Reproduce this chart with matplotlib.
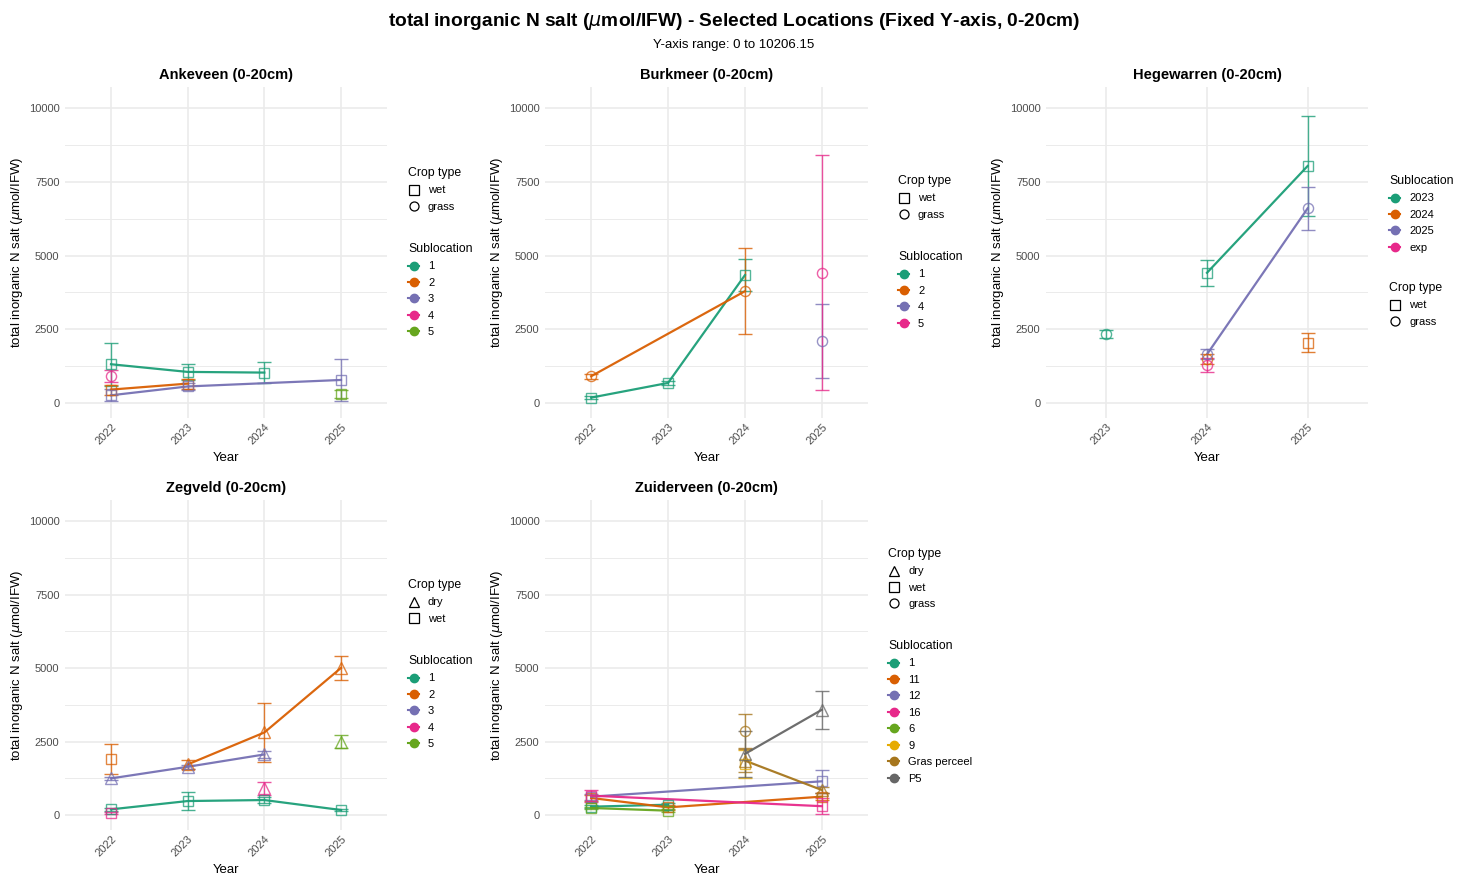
import matplotlib.pyplot as plt
from matplotlib.lines import Line2D

plt.rcParams['font.family'] = ['Liberation Sans', 'DejaVu Sans']

W, H = 1468, 874
YMAX = 10206.15
PALETTE = plt.get_cmap('Dark2').colors
SHAPES = {'dry': '^', 'wet': 's', 'grass': 'o'}

# (sublocation, crop type, years, mean, half error bar)
ankeveen = [
    ("1", "wet", [2022, 2023, 2024], [1313, 1053, 1030], [725, 283, 362]),
    ("2", "wet", [2022, 2023], [453, 656], [170, 170]),
    ("3", "wet", [2022, 2023, 2025], [260, 560, 780], [200, 110, 710]),
    ("4", "grass", [2022], [917], [200]),
    ("5", "wet", [2025], [317], [136]),
]
burkmeer = [
    ("1", "wet", [2022, 2023, 2024], [181, 679, 4336], [60, 60, 540]),
    ("2", "grass", [2022, 2024], [906, 3790], [80, 1450]),
    ("4", "grass", [2025], [2100], [1270]),
    ("5", "grass", [2025], [4420], [3990]),
]
hegewarren = [
    ("2023", "grass", [2023], [2355], [136]),
    ("2023", "wet", [2024, 2025], [4415, 8037], [450, 1690]),
    ("2024", "grass", [2024], [1506], [170]),
    ("2024", "wet", [2025], [2038], [320]),
    ("2025", "grass", [2024, 2025], [1650, 6600], [170, 735]),
    ("exp", "grass", [2024], [1279], [230]),
]
zegveld = [
    ("1", "wet", [2022, 2023, 2024, 2025], [192, 475, 509, 170], [50, 300, 90, 40]),
    ("2", "wet", [2022], [1890], [510]),
    ("2", "dry", [2023, 2024, 2025], [1721, 2807, 5003], [140, 990, 400]),
    ("3", "dry", [2022, 2023, 2024], [1245, 1640, 2060], [60, 60, 110]),
    ("4", "wet", [2022], [57], [30]),
    ("4", "dry", [2024], [906], [215]),
    ("5", "dry", [2025], [2490], [215]),
]
zuiderveen = [
    ("1", "wet", [2022, 2023], [283, 351], [60, 60]),
    ("11", "wet", [2022, 2023, 2025], [580, 260, 624], [100, 80, 120]),
    ("12", "wet", [2022, 2025], [624, 1146], [100, 390]),
    ("16", "wet", [2022, 2025], [658, 300], [200, 280]),
    ("6", "wet", [2022, 2023], [239, 147], [50, 50]),
    ("9", "wet", [2024], [1740], [480]),
    ("Gras perceel", "grass", [2024], [2852], [570]),
    ("Gras perceel", "dry", [2024, 2025], [1850, 850], [400, 100]),
    ("P5", "dry", [2024, 2025], [2080, 3580], [775, 640]),
]

panels = [
    ("Ankeveen (0-20cm)", ankeveen, ["1", "2", "3", "4", "5"], ["wet", "grass"],
     (65, 87, 387, 418), (408, 167, 243)),
    ("Burkmeer (0-20cm)", burkmeer, ["1", "2", "4", "5"], ["wet", "grass"],
     (545, 87, 868, 418), (898, 175, 251)),
    ("Hegewarren (0-20cm)", hegewarren, ["2023", "2024", "2025", "exp"], ["wet", "grass"],
     (1046, 87, 1368, 418), (1389, 282, 175)),
    ("Zegveld (0-20cm)", zegveld, ["1", "2", "3", "4", "5"], ["dry", "wet"],
     (65, 500, 387, 830), (408, 579, 655)),
    ("Zuiderveen (0-20cm)", zuiderveen, ["1", "11", "12", "16", "6", "9", "Gras perceel", "P5"],
     ["dry", "wet", "grass"],
     (545, 500, 868, 830), (888, 548, 640)),
]

fig = plt.figure(figsize=(W / 100, H / 100), dpi=100)
fig.patch.set_facecolor('white')

for title, series, subs, crops, box, leg in panels:
    l, t, r, b = box
    ax = fig.add_axes([l / W, 1 - b / H, (r - l) / W, (b - t) / H])
    years = sorted({y for s in series for y in s[2]})
    for sub, crop, yrs, vals, errs in series:
        c = PALETTE[subs.index(sub)]
        x = [years.index(y) for y in yrs]
        ax.errorbar(x, vals, yerr=errs, fmt='none', ecolor=c, elinewidth=1.0,
                    capsize=4.7, capthick=1.0, alpha=0.8, zorder=3)
        if len(x) > 1:
            ax.plot(x, vals, color=c, lw=1.6, alpha=0.95, zorder=4)
        ms = 8.5 if crop == 'dry' else 7.3
        ax.plot(x, vals, linestyle='none', marker=SHAPES[crop], mfc='none', mec=c,
                ms=ms, mew=1.0, alpha=0.75, zorder=5)

    ax.set_xlim(-0.6, len(years) - 0.4)
    ax.set_ylim(-0.05 * YMAX, 1.05 * YMAX)
    ax.set_xticks(range(len(years)))
    ax.set_xticklabels([str(y) for y in years], rotation=45, ha='right',
                       rotation_mode='anchor')
    ax.set_yticks([0, 2500, 5000, 7500, 10000])
    ax.set_yticks([1250, 3750, 6250, 8750], minor=True)
    ax.tick_params(axis='both', which='both', length=0, labelsize=8, labelcolor='#4D4D4D')
    ax.tick_params(axis='x', pad=3)
    ax.tick_params(axis='y', pad=4)
    ax.grid(True, which='major', color='#EBEBEB', lw=1.2)
    ax.grid(True, which='minor', axis='y', color='#EBEBEB', lw=0.7)
    ax.set_axisbelow(True)
    for sp in ax.spines.values():
        sp.set_visible(False)
    ax.set_title(title, fontsize=10.5, fontweight='bold', pad=6)
    ax.set_xlabel('Year', fontsize=9.5, labelpad=4)
    ax.set_ylabel(r'total inorganic N salt ($\mu$mol/IFW)', fontsize=9.5, labelpad=3)

    crop_handles = [Line2D([], [], color='black', marker=SHAPES[k], mfc='none', ls='none',
                           ms=6.5 if k != 'dry' else 7.5, mew=0.9) for k in crops]
    sub_handles = [Line2D([], [], color=PALETTE[i], marker='o', ms=6, lw=1.5)
                   for i in range(len(subs))]
    lx, crop_top, sub_top = leg
    common = dict(loc='upper left', bbox_transform=fig.transFigure, frameon=False,
                  borderpad=0, borderaxespad=0, fontsize=8, title_fontsize=8.8,
                  alignment='left', handlelength=1.0, handletextpad=0.8,
                  labelspacing=0.58)
    leg1 = ax.legend(crop_handles, crops, title='Crop type',
                     bbox_to_anchor=(lx / W, 1 - crop_top / H), **common)
    ax.add_artist(leg1)
    ax.legend(sub_handles, subs, title='Sublocation',
              bbox_to_anchor=(lx / W, 1 - sub_top / H), **common)

fig.text(0.5, 1 - 21 / H, r'total inorganic N salt ($\mu$mol/IFW) - Selected Locations (Fixed Y-axis, 0-20cm)',
         ha='center', va='center', fontsize=13.8, fontweight='bold')
fig.text(0.5, 1 - 45 / H, 'Y-axis range: 0 to 10206.15', ha='center', va='center',
         fontsize=9.5)

fig.savefig('out.png', dpi=100)
